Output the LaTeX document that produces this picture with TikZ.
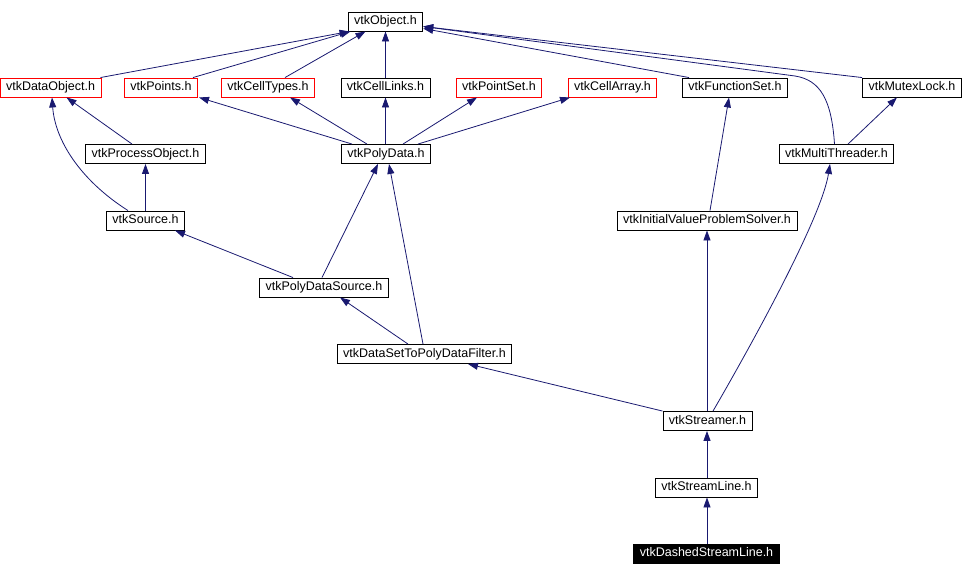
\documentclass[tikz,border=0pt]{standalone}
\usepackage{fontspec}
\setmainfont{Liberation Sans}
\usetikzlibrary{arrows.meta,calc}
\definecolor{edgeblue}{HTML}{191970}
\tikzset{box/.style = {draw, line width=0.9pt, minimum height=19pt, inner sep=0pt, inner xsep=6pt,
                       text height=9.5pt, text depth=3.5pt, font=\fontsize{12.5}{14}\selectfont},
         redbox/.style = {box, draw=red},
         dep/.style = {draw=edgeblue, line width=0.8pt, -{Triangle[length=10pt,width=7pt]}}}
\begin{document}
\begin{tikzpicture}[x = 1pt, y = -1pt]
            \useasboundingbox (0, 0) rectangle (965, 576);
            \node[box] (obj) at (385.5, 21.5) {vtkObject.h};
            \node[redbox] (dataobj) at (50.5, 87.5) {vtkDataObject.h};
            \node[redbox] (points) at (161, 87.5) {vtkPoints.h};
            \node[redbox] (celltypes) at (268, 87.5) {vtkCellTypes.h};
            \node[box] (celllinks) at (385.5, 87.5) {vtkCellLinks.h};
            \node[redbox] (pointset) at (499, 87.5) {vtkPointSet.h};
            \node[redbox] (cellarray) at (612.5, 87.5) {vtkCellArray.h};
            \node[box] (funcset) at (735, 87.5) {vtkFunctionSet.h};
            \node[box] (mutex) at (912, 87.5) {vtkMutexLock.h};
            \node[box] (procobj) at (145.5, 154) {vtkProcessObject.h};
            \node[box] (polydata) at (386, 154) {vtkPolyData.h};
            \node[box] (multi) at (836.5, 154) {vtkMultiThreader.h};
            \node[box] (source) at (145.5, 220.5) {vtkSource.h};
            \node[box] (ivps) at (707, 220.5) {vtkInitialValueProblemSolver.h};
            \node[box] (pdsource) at (324, 287.5) {vtkPolyDataSource.h};
            \node[box] (dstpdf) at (424.5, 354) {vtkDataSetToPolyDataFilter.h};
            \node[box] (streamer) at (707.5, 421) {vtkStreamer.h};
            \node[box] (streamline) at (706.5, 487.5) {vtkStreamLine.h};
            \node[box, fill=black, text=white] (dashed) at (706.5, 553.5) {vtkDashedStreamLine.h};
            \foreach\c/\cs/\p/\ps in {dataobj/50/obj/-36, points/32/obj/-35, celltypes/17/obj/-20,
                                      celllinks/0/obj/0, procobj/-13.5/dataobj/16, source/0/procobj/0,
                                      polydata/-34/points/38, polydata/-19/celltypes/22,
                                      polydata/-0.5/celllinks/0, polydata/17/pointset/-22,
                                      polydata/32/cellarray/-42.5, pdsource/-31/source/29.5,
                                      pdsource/-2/polydata/-8, dstpdf/-16.5/pdsource/16,
                                      dstpdf/-1.5/polydata/3, streamer/-0.5/ivps/0, ivps/3/funcset/-6,
                                      multi/11.5/mutex/-15, streamline/0.5/streamer/-0.5,
                                      dashed/0.5/streamline/0.5}
                {\draw[dep] ([xshift=\cs pt]\c.north) -- ([xshift=\ps pt]\p.south);};
            \draw[dep] ([xshift=7pt]funcset.north west) -- ($(obj.east) + (0, 7)$);
            \draw[dep] (mutex.north west) -- ($(obj.east) + (0, 5)$);
            \draw[dep] ([xshift=-2pt]multi.north) .. controls +(-3, -45) and +(25, 4) .. (795, 76)
                       -- ($(obj.east) + (0, 5)$);
            \draw[dep] ([xshift=-17.5pt]source.north) .. controls (80, 180) and (55, 140) .. ([xshift=1.5pt]dataobj.south);
            \draw[dep] ([xshift=5.5pt]streamer.north) .. controls (760, 330) and (822, 215) .. ([xshift=-6.5pt]multi.south);
            \draw[dep] (streamer.north west) -- ([xshift=43.5pt]dstpdf.south);
        \end{tikzpicture}
\end{document}
